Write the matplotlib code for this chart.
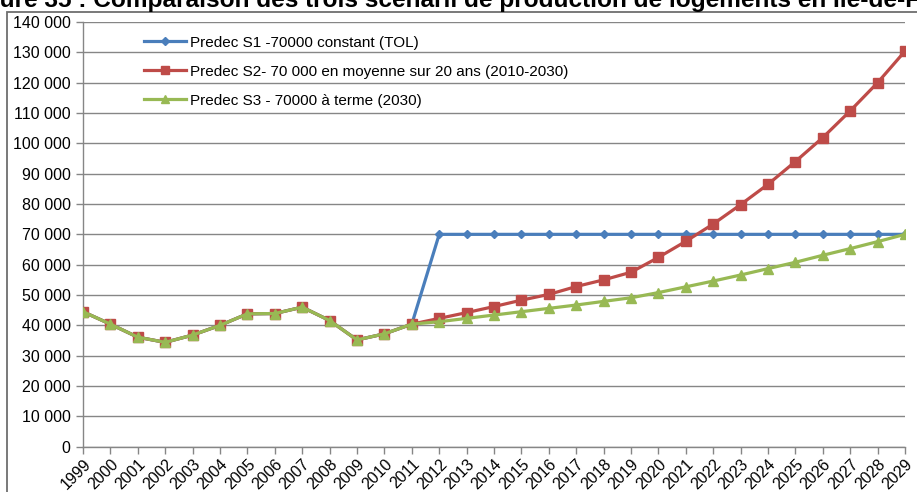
import matplotlib
matplotlib.use("Agg")
import matplotlib.pyplot as plt
from matplotlib.patches import Rectangle
from matplotlib.ticker import FuncFormatter, MultipleLocator

plt.rcParams['font.family'] = ['Liberation Sans', 'DejaVu Sans']

years = list(range(1999, 2030))

# Observed production 1999-2011 (shared by all three scenarios)
historique = [44500, 40400, 36100, 34400, 36800, 40000, 43800, 43900,
              46000, 41600, 35200, 37200, 40400]

s1_projection = [70000] * 18
s2_projection = [42300, 44200, 46200, 48300, 50200, 52800, 55000, 57500,
                 62400, 67700, 73400, 79800, 86500, 94000, 101900, 110700,
                 120000, 130400]
s3_projection = [41200, 42300, 43400, 44500, 45600, 46700, 47900, 49100,
                 50800, 52700, 54600, 56600, 58700, 60800, 63100, 65300,
                 67600, 70000]

s1 = historique + s1_projection
s2 = historique + s2_projection
s3 = historique + s3_projection

labels = ["Predec S1 -70000 constant (TOL)",
          "Predec S2- 70 000 en moyenne sur 20 ans (2010-2030)",
          "Predec S3 - 70000 à terme (2030)"]
title = "Figure 35 : Comparaison des trois scénarii de production de logements en Île-de-France"

W, H = 917, 492
fig = plt.figure(figsize=(W / 100, H / 100), dpi=100)
ax = fig.add_axes([83 / W, 1 - 446.7 / H, (905 - 83) / W, (446.7 - 22) / H])

blue, red, green = "#4A7EBB", "#BE4B48", "#98B954"
ax.plot(years, s1, color=blue, lw=2.3, marker="D", ms=4.5, mec=blue, label=labels[0], zorder=3)
ax.plot(years, s2, color=red, lw=2.3, marker="s", ms=6.5, mec=red, label=labels[1], zorder=4)
ax.plot(years, s3, color=green, lw=2.3, marker="^", ms=6.5, mec=green, label=labels[2], zorder=5)

ax.set_xlim(1999, 2029)
ax.set_ylim(0, 140000)
ax.yaxis.set_major_locator(MultipleLocator(10000))
ax.yaxis.set_major_formatter(FuncFormatter(lambda v, p: f"{int(v):,}".replace(",", " ")))
ax.set_xticks(years)
ax.set_xticklabels([str(y) for y in years], rotation=45, ha="right",
                   rotation_mode="anchor")

axis_grey = "#868686"
ax.grid(axis="y", color=axis_grey, lw=1.0)
ax.set_axisbelow(True)
for side in ("top", "right"):
    ax.spines[side].set_visible(False)
for side in ("left", "bottom"):
    ax.spines[side].set_color(axis_grey)
    ax.spines[side].set_linewidth(1.0)
ax.tick_params(axis="both", colors=axis_grey, labelcolor="black", labelsize=11.5,
               length=5, width=1.0)
ax.tick_params(axis="y", pad=4)
ax.tick_params(axis="x", pad=2)

leg = ax.legend(loc="upper left", bbox_to_anchor=(0.074, 0.968), frameon=False,
                fontsize=11, handlelength=2.75, handletextpad=0.3,
                labelspacing=0.98, borderpad=0, borderaxespad=0, markerscale=0.8)

# outer chart frame
fig.patches.append(Rectangle((7 / W, -0.05), 1.2, 1 - 11.5 / H + 0.05,
                             transform=fig.transFigure, fill=False,
                             edgecolor="#6e6e6e", lw=1.3, zorder=0))

fig.text(-37 / W, 1 - 7.5 / H, title, fontsize=17.6, fontweight="bold",
         ha="left", va="baseline")

fig.savefig("out.png", dpi=100)
